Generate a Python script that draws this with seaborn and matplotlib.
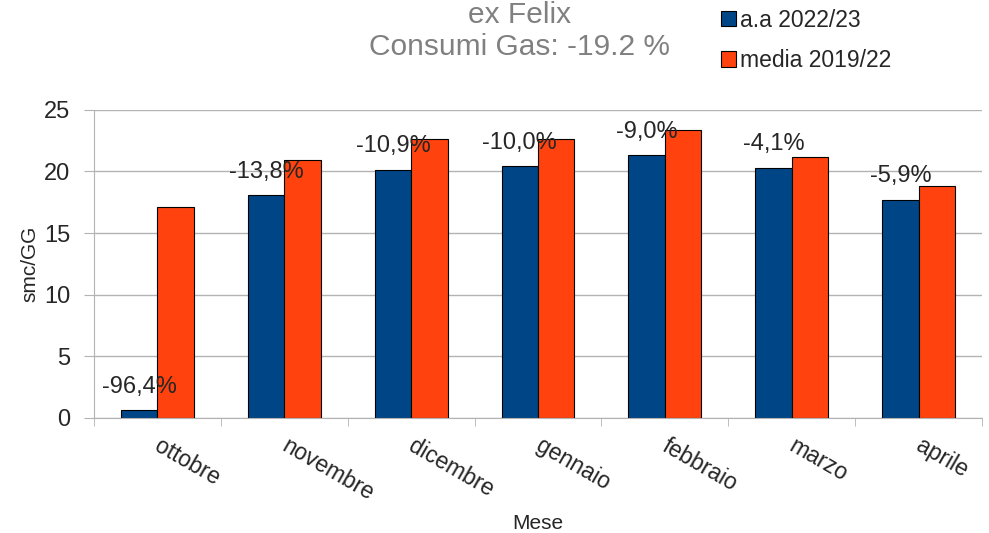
import pandas as pd
import seaborn as sns
import matplotlib.pyplot as plt
import matplotlib.transforms as mtransforms

mesi = ["ottobre", "novembre", "dicembre", "gennaio", "febbraio", "marzo", "aprile"]
aa_2022_23 = [0.62, 18.05, 20.15, 20.4, 21.3, 20.3, 17.7]
media_2019_22 = [17.15, 20.95, 22.65, 22.65, 23.4, 21.2, 18.8]
variazioni = ["-96,4%", "-13,8%", "-10,9%", "-10,0%", "-9,0%", "-4,1%", "-5,9%"]
serie = ["a.a 2022/23", "media 2019/22"]

df = pd.DataFrame({
    "Mese": mesi * 2,
    "valore": aa_2022_23 + media_2019_22,
    "serie": [serie[0]] * len(mesi) + [serie[1]] * len(mesi),
})

sns.set_style("white")
plt.rcParams["font.family"] = ["Liberation Sans", "DejaVu Sans"]

fig = plt.figure(figsize=(9.89, 5.33), dpi=100)
ax = fig.add_axes([0.095, 0.216, 0.898, 0.578])

sns.barplot(data=df, x="Mese", y="valore", hue="serie",
            palette=["#004586", "#ff420e"], saturation=1, width=0.575, gap=0,
            edgecolor="black", linewidth=0.8, ax=ax, legend=False)

ax.set_ylim(0, 25)
ax.set_xlim(-0.5, len(mesi) - 0.5)
ax.set_yticks(range(0, 26, 5))
ax.yaxis.grid(True, color="#b3b3b3", linewidth=1)
ax.set_axisbelow(True)
for s in ["top", "right"]:
    ax.spines[s].set_visible(False)
ax.spines["left"].set_color("#b3b3b3")
ax.spines["bottom"].set_color("#b3b3b3")

ax.tick_params(axis="y", left=True, length=7, color="#b3b3b3", labelsize=17, pad=10)
ax.set_xticks([i - 0.5 for i in range(len(mesi) + 1)], minor=True)
ax.tick_params(axis="x", which="minor", bottom=True, length=6, color="#b3b3b3")
ax.tick_params(axis="x", which="major", bottom=False, length=0, labelsize=16.5, pad=12)
ax.set_xticks(range(len(mesi)))
ax.set_xticklabels(mesi, rotation=-30, ha="left", rotation_mode="anchor")
# sposta un po' a destra le etichette dei mesi
shift = mtransforms.ScaledTranslation(5 / 100, 0, fig.dpi_scale_trans)
for lab in ax.get_xticklabels():
    lab.set_transform(lab.get_transform() + shift)

ax.set_ylabel("smc/GG", fontsize=15, labelpad=3)
ax.set_xlabel("Mese", fontsize=15, labelpad=6)

for i, (v, t) in enumerate(zip(aa_2022_23, variazioni)):
    ax.annotate(t, (i - 0.575 / 4, v), xytext=(0, 9), textcoords="offset points",
                ha="center", va="bottom", fontsize=17)

fig.text(0.525, 0.998, "ex Felix\nConsumi Gas: -19.2 %", ha="center", va="top",
         fontsize=21.5, color="#808080", linespacing=1.2)

handles = [plt.Rectangle((0, 0), 1, 1, facecolor=c, edgecolor="black", linewidth=0.8)
           for c in ["#004586", "#ff420e"]]
fig.legend(handles, serie, loc="upper left", bbox_to_anchor=(0.708, 1.022),
           frameon=False, fontsize=16.5, handlelength=0.65, handleheight=0.65,
           handletextpad=0.2, labelspacing=0.75)

fig.savefig("out.png", dpi=100)
